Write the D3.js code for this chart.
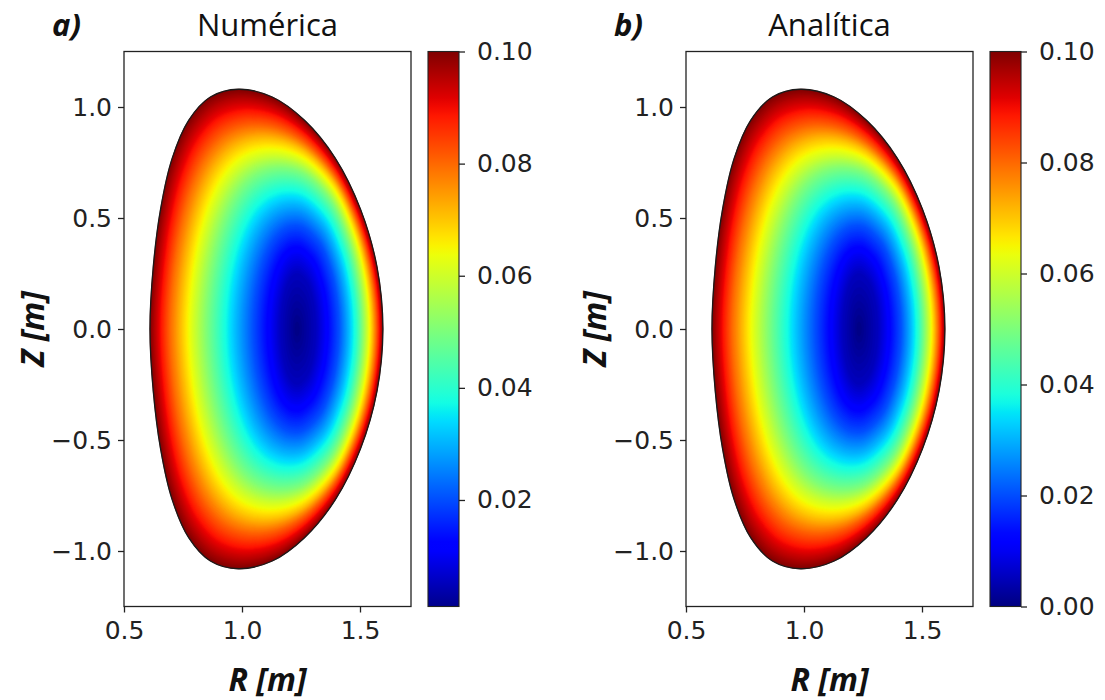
<!DOCTYPE html>
<html>
<head>
<meta charset="utf-8">
<script src="https://cdn.jsdelivr.net/npm/d3@7"></script>
<style>
  body { margin: 0; background: #fff; }
  svg { display: block; }
</style>
</head>
<body>
<script>
// Last closed flux surface (plasma boundary), in metres
const boundaryR = [1.597, 1.572, 1.502, 1.395, 1.265, 1.128, 0.985, 0.866, 0.774, 0.703, 0.655, 0.624,
                   0.610, 0.624, 0.655, 0.703, 0.774, 0.866, 0.985, 1.128, 1.265, 1.395, 1.502, 1.572];
const boundaryZ = [0.00, 0.28, 0.54, 0.77, 0.94, 1.045, 1.08, 1.045, 0.94, 0.765, 0.54, 0.28,
                   0.00, -0.28, -0.54, -0.765, -0.94, -1.045, -1.08, -1.045, -0.94, -0.77, -0.54, -0.28];

// Magnetic axis
const axisR = 1.233, axisZ = 0.0;

// Flux levels, where each contour crosses the midplane (left / right),
// its half height, and how D-shaped it is (0 = ellipse, 1 = like the boundary)
const psiLevels = [0, 0.005, 0.01, 0.02, 0.03, 0.04, 0.05, 0.06, 0.07, 0.08, 0.09, 0.10];
const rLeft  = [1.233, 1.165, 1.125, 1.048, 0.978, 0.912, 0.852, 0.797, 0.745, 0.695, 0.653, 0.610];
const rRight = [1.233, 1.312, 1.350, 1.410, 1.450, 1.484, 1.508, 1.530, 1.550, 1.567, 1.582, 1.597];
const zHalf  = [0, 0.25, 0.34, 0.47, 0.57, 0.66, 0.74, 0.80, 0.87, 0.93, 1.00, 1.08];
const dShape = [0, 0, 0.05, 0.1, 0.2, 0.3, 0.4, 0.5, 0.62, 0.75, 0.88, 1];

// Panels
const letters = ["a)", "b)"];
const titles = ["Numérica", "Analítica"];
const cbMins = [0.001, 0.0];
const cbTicksA = [0.02, 0.04, 0.06, 0.08, 0.10];
const cbTicksB = [0.00, 0.02, 0.04, 0.06, 0.08, 0.10];
const rTicks = [0.5, 1.0, 1.5];
const zTicks = [-1.0, -0.5, 0.0, 0.5, 1.0];

const W = 1105, H = 700;
const plotTop = 51.5, plotBottom = 606.5, plotW = 287;
const panelLeft = [124, 686];
const cbGap = 17, cbW = 31;

const tickFont = "25px 'DejaVu Sans', sans-serif";
const labelFont = "italic bold 32px 'Open Sans', sans-serif";

// matplotlib jet
const jetStops = [0, 0.11, 0.125, 0.34, 0.35, 0.375, 0.64, 0.65, 0.66, 0.89, 0.91, 1];
const jetCols = ["rgb(0,0,128)", "rgb(0,0,255)", "rgb(0,0,255)", "rgb(0,219,255)", "rgb(0,230,247)",
                 "rgb(21,255,226)", "rgb(239,255,8)", "rgb(247,246,0)", "rgb(255,236,0)",
                 "rgb(255,19,0)", "rgb(232,0,0)", "rgb(128,0,0)"];
const jet = d3.scaleLinear().domain(jetStops).range(jetCols).clamp(true);

const svg = d3.select("body").append("svg")
    .attr("width", W)
    .attr("height", H);

// contour geometry scales (psi -> position)
const leftAt = d3.scaleLinear().domain(psiLevels).range(rLeft);
const rightAt = d3.scaleLinear().domain(psiLevels).range(rRight);
const zAt = d3.scaleLinear().domain(psiLevels).range(zHalf);
const dAt = d3.scaleLinear().domain(psiLevels).range(dShape);

const last = psiLevels.length - 1;
const bL = rLeft[last], bR = rRight[last], bZ = zHalf[last];

// boundary in normalised coordinates about the axis
const unit = boundaryR.map(function(r, i) {
    return [r < axisR ? (r - axisR) / (axisR - bL) : (r - axisR) / (bR - axisR),
            (boundaryZ[i] - axisZ) / bZ];
});

// one contour = mix of the squeezed boundary and an ellipse of the same extent
function contourPts(psi) {
    var aL = axisR - leftAt(psi), aR = rightAt(psi) - axisR, h = zAt(psi), w = dAt(psi);
    return unit.map(function(u) {
        var t = Math.atan2(u[1], u[0]);
        var eu = Math.cos(t), ev = Math.sin(t);
        var nu = w * u[0] + (1 - w) * eu, nv = w * u[1] + (1 - w) * ev;
        return [axisR + nu * (nu < 0 ? aL : aR), axisZ + nv * h];
    });
}

letters.forEach(function(letter, p) {
    var x0 = panelLeft[p];
    var x = d3.scaleLinear().domain([0.5, 0.5 + plotW / 236]).range([x0, x0 + plotW]);
    var y = d3.scaleLinear().domain([-1.25, 1.25]).range([plotBottom, plotTop]);
    var g = svg.append("g");

    var line = d3.line()
        .x(function(d) { return x(d[0]); })
        .y(function(d) { return y(d[1]); })
        .curve(d3.curveCatmullRomClosed);

    // filled nested flux surfaces, outer first
    var psiMax = psiLevels[last];
    var n = 160;
    for (var k = 0; k < n; k++) {
        var psi = psiMax * (1 - k / n);
        g.append("path")
            .attr("d", line(contourPts(psi)))
            .attr("fill", jet(psi / psiMax))
            .attr("stroke", jet(psi / psiMax))
            .attr("stroke-width", 0.6);
    }

    // boundary outline
    g.append("path")
        .attr("d", line(boundaryR.map(function(r, i) { return [r, boundaryZ[i]]; })))
        .attr("fill", "none")
        .attr("stroke", "#1a1a1a")
        .attr("stroke-width", 1.3);

    // axes
    var xa = g.append("g")
        .attr("transform", "translate(0," + plotBottom + ")")
        .call(d3.axisBottom(x).tickValues(rTicks).tickFormat(d3.format(".1f"))
            .tickSize(6).tickSizeOuter(0).tickPadding(9));
    var ya = g.append("g")
        .attr("transform", "translate(" + x0 + ",0)")
        .call(d3.axisLeft(y).tickValues(zTicks).tickFormat(d3.format(".1f"))
            .tickSize(6).tickSizeOuter(0).tickPadding(6));
    [xa, ya].forEach(function(a) {
        a.select(".domain").remove();
        a.selectAll("line").attr("stroke", "#222").attr("stroke-width", 1.3);
        a.selectAll("text").style("font", tickFont).attr("fill", "#222");
    });

    g.append("rect")
        .attr("x", x0).attr("y", plotTop)
        .attr("width", plotW).attr("height", plotBottom - plotTop)
        .attr("fill", "none").attr("stroke", "#222").attr("stroke-width", 1.3);

    // colorbar
    var cbMin = cbMins[p];
    var cbx = x0 + plotW + cbGap;
    var cy = d3.scaleLinear().domain([cbMin, psiMax]).range([plotBottom, plotTop]);
    var gradId = "jet" + p;
    var grad = svg.append("defs").append("linearGradient")
        .attr("id", gradId)
        .attr("x1", 0).attr("y1", 1).attr("x2", 0).attr("y2", 0);
    d3.range(0, 61).forEach(function(i) {
        var v = cbMin + (psiMax - cbMin) * i / 60;
        grad.append("stop").attr("offset", i / 60).attr("stop-color", jet(v / psiMax));
    });
    g.append("rect")
        .attr("x", cbx).attr("y", plotTop)
        .attr("width", cbW).attr("height", plotBottom - plotTop)
        .attr("fill", "url(#" + gradId + ")")
        .attr("stroke", "#222").attr("stroke-width", 1.1);
    var ca = g.append("g")
        .attr("transform", "translate(" + (cbx + cbW) + ",0)")
        .call(d3.axisRight(cy).tickValues(p === 0 ? cbTicksA : cbTicksB)
            .tickFormat(d3.format(".2f")).tickSize(6).tickSizeOuter(0).tickPadding(12));
    ca.select(".domain").remove();
    ca.selectAll("line").attr("stroke", "#222").attr("stroke-width", 1.3);
    ca.selectAll("text").style("font", tickFont).attr("fill", "#222");

    // titles and labels
    g.append("text")
        .attr("x", x0 - 72).attr("y", 36)
        .style("font", "italic bold 31px 'Open Sans', sans-serif")
        .attr("fill", "#111")
        .text(letter);
    g.append("text")
        .attr("x", x0 + plotW / 2).attr("y", 36)
        .attr("text-anchor", "middle")
        .style("font", "31px 'Open Sans', sans-serif")
        .attr("fill", "#111")
        .text(titles[p]);
    g.append("text")
        .attr("x", x0 + plotW / 2).attr("y", 691)
        .attr("text-anchor", "middle")
        .style("font", labelFont)
        .attr("fill", "#111")
        .text("R [m]");
    g.append("text")
        .attr("transform", "translate(" + (x0 - 80) + "," + y(0) + ") rotate(-90)")
        .attr("text-anchor", "middle")
        .style("font", labelFont)
        .attr("fill", "#111")
        .text("Z [m]");
});
</script>
</body>
</html>
